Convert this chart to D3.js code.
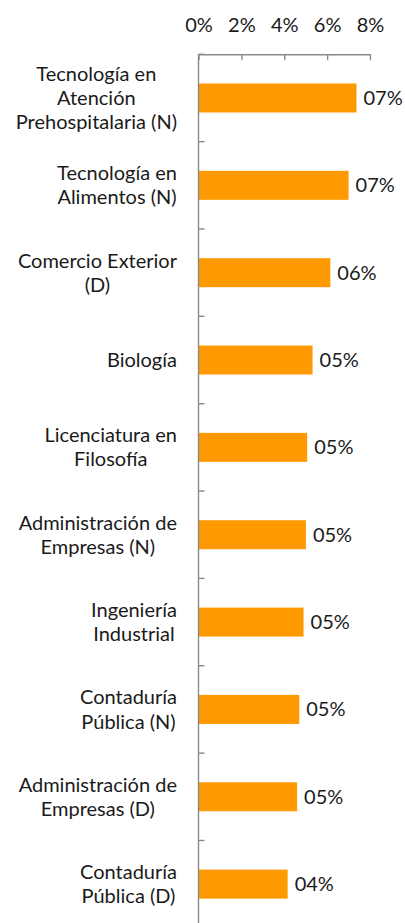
<!DOCTYPE html>
<html>
<head>
<meta charset="utf-8">
<script src="https://cdn.jsdelivr.net/npm/d3@7"></script>
<style>
  body { margin: 0; background: #fff; }
  svg text { font-family: Lato, "Open Sans", sans-serif; fill: #1a1a1a; }
</style>
</head>
<body>
<div class="mainbody"></div>
<script>
// categorías (saltos de línea como en el original)
var categories = [
  "Tecnología en|Atención|Prehospitalaria (N)",
  "Tecnología en|Alimentos (N)",
  "Comercio Exterior|(D)",
  "Biología",
  "Licenciatura en|Filosofía",
  "Administración de|Empresas (N)",
  "Ingeniería|Industrial",
  "Contaduría|Pública (N)",
  "Administración de|Empresas (D)",
  "Contaduría|Pública (D)"
];
// porcentaje
var values = [7.37, 7.0, 6.15, 5.32, 5.07, 5.01, 4.9, 4.7, 4.6, 4.16];
var xTicks = [0, 2, 4, 6, 8];

var w = 405, h = 923;
// ojo: "top" choca con window.top
var plotLeft = 198.5, plotRight = 370, plotTop = 54.3, plotBottom = 927.8;
var fontSize = 20;

var data = categories.map(function(c, i) { return {cat: c, v: values[i]}; });

var svg = d3.select(".mainbody")
  .append("svg")
  .attr("width", w)
  .attr("height", h);

var x = d3.scaleLinear().domain([0, 8]).range([plotLeft, plotRight]);
var y = d3.scaleBand()
  .domain(categories)
  .range([plotTop, plotBottom])
  .paddingInner(0.668)
  .paddingOuter(0.334);

// barras
svg.append("g")
  .selectAll("rect")
  .data(data)
  .enter()
  .append("rect")
  .attr("x", x(0))
  .attr("y", d => y(d.cat))
  .attr("width", d => x(d.v) - x(0))
  .attr("height", y.bandwidth())
  .attr("fill", "#ff9900");

// eje superior
var xAxis = d3.axisTop(x)
  .tickValues(xTicks)
  .tickFormat(d => d + "%")
  .tickSizeInner(-6)
  .tickSizeOuter(0)
  .tickPadding(22);

var gx = svg.append("g")
  .attr("transform", "translate(0," + plotTop + ")")
  .call(xAxis);
gx.select(".domain").attr("stroke", "#8a8a8a").attr("stroke-width", 1.4);
gx.selectAll(".tick line").attr("stroke", "#8a8a8a").attr("stroke-width", 1.4);
gx.selectAll(".tick text")
  .attr("font-size", fontSize)
  .style("font-family", "Lato, sans-serif")
  .attr("fill", "#1a1a1a");

// eje izquierdo (línea + marcas entre categorías)
var gy = svg.append("g");
gy.append("line")
  .attr("x1", plotLeft).attr("x2", plotLeft)
  .attr("y1", plotTop).attr("y2", plotBottom)
  .attr("stroke", "#8a8a8a")
  .attr("stroke-width", 1.4);

var bounds = d3.range(categories.length + 1).map(i => plotTop + i * y.step());
gy.selectAll("line.sep")
  .data(bounds)
  .enter()
  .append("line")
  .attr("class", "sep")
  .attr("x1", plotLeft).attr("x2", plotLeft + 6)
  .attr("y1", d => d).attr("y2", d => d)
  .attr("stroke", "#8a8a8a")
  .attr("stroke-width", 1.4);

// etiquetas de categoría: bloque alineado a la derecha, líneas centradas
var lineH = 24.2;
var labelRight = 177;
var catLabels = svg.append("g")
  .selectAll("g")
  .data(data)
  .enter()
  .append("g");

catLabels.each(function(d) {
  var g = d3.select(this);
  var lines = d.cat.split("|");
  var cy = y(d.cat) + y.bandwidth() / 2;
  var t = g.append("text")
    .attr("font-size", fontSize)
    .attr("text-anchor", "middle");
  lines.forEach(function(l, i) {
    t.append("tspan")
      .attr("y", cy + (i - (lines.length - 1) / 2) * lineH)
      .attr("dy", "0.35em")
      .text(l);
  });
  // ancho máximo de línea para centrar el bloque
  var maxW = 0;
  t.selectAll("tspan").each(function() {
    maxW = Math.max(maxW, this.getComputedTextLength());
  });
  t.selectAll("tspan").attr("x", labelRight - maxW / 2);
});

// etiquetas de valor
var fmt = d3.format("02d");
svg.append("g")
  .selectAll("text")
  .data(data)
  .enter()
  .append("text")
  .attr("x", d => x(d.v) + 7)
  .attr("y", d => y(d.cat) + y.bandwidth() / 2)
  .attr("dy", "0.35em")
  .attr("font-size", fontSize)
  .text(d => fmt(Math.round(d.v)) + "%");
</script>
</body>
</html>
